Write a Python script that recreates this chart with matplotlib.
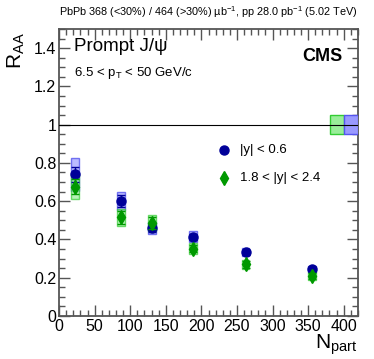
import matplotlib
matplotlib.use("Agg")
from matplotlib import pyplot as plt
from matplotlib.patches import Rectangle
from matplotlib.ticker import MultipleLocator
import numpy as np

plt.rcParams['font.family'] = ['Liberation Sans', 'DejaVu Sans']
plt.rcParams['mathtext.fontset'] = 'custom'
plt.rcParams['mathtext.rm'] = 'Liberation Sans'
plt.rcParams['mathtext.it'] = 'Liberation Sans:italic'

# data
npart = [22, 87, 131, 188, 262, 356]
raa_mid = [0.74, 0.60, 0.46, 0.414, 0.333, 0.245]
stat_mid = [0.04, 0.03, 0.02, 0.015, 0.012, 0.01]
syst_mid = [0.085, 0.047, 0.03, 0.03, 0.02, 0.015]
raa_fwd = [0.675, 0.515, 0.487, 0.352, 0.27, 0.21]
stat_fwd = [0.04, 0.035, 0.03, 0.02, 0.018, 0.016]
syst_fwd = [0.065, 0.045, 0.042, 0.028, 0.025, 0.02]
glob_mid = 0.05
glob_fwd = 0.05

blue = '#000099'
green = '#009900'

fig = plt.figure(figsize=(3.74, 3.59), dpi=100)
ax = fig.add_axes([0.158, 0.12, 0.799, 0.799])

hw = 5.5
for x, y, s in zip(npart, raa_mid, syst_mid):
    ax.add_patch(Rectangle((x - hw, y - s), 2 * hw, 2 * s, facecolor='#aaaaff',
                           edgecolor='#5555ee', alpha=0.8, lw=1, zorder=2))
for x, y, s in zip(npart, raa_fwd, syst_fwd):
    ax.add_patch(Rectangle((x - hw, y - s), 2 * hw, 2 * s, facecolor='#99ee99',
                           edgecolor='#33cc33', alpha=0.7, lw=1, zorder=3))

ax.errorbar(npart, raa_mid, yerr=stat_mid, fmt='o', color=blue, ms=6.5,
            capsize=3, lw=1, zorder=4)
ax.errorbar(npart, raa_fwd, yerr=stat_fwd, fmt='d', color=green, ms=7.5,
            capsize=3, lw=1, zorder=5)

# global uncertainty boxes
ax.add_patch(Rectangle((381, 1 - glob_fwd), 20, 2 * glob_fwd, facecolor='#99ee99',
                       edgecolor='#33cc33', lw=1, zorder=3))
ax.add_patch(Rectangle((401, 1 - glob_mid), 19, 2 * glob_mid, facecolor='#9999ff',
                       edgecolor='#5555ee', lw=1, zorder=3))
ax.axhline(1, color='black', lw=0.8, zorder=4)

ax.set_xlim(0, 420)
ax.set_ylim(0, 1.5)
ax.xaxis.set_major_locator(MultipleLocator(50))
ax.xaxis.set_minor_locator(MultipleLocator(10))
ax.yaxis.set_major_locator(MultipleLocator(0.2))
ax.yaxis.set_minor_locator(MultipleLocator(0.05))
ax.set_yticks([0, 0.2, 0.4, 0.6, 0.8, 1.0, 1.2, 1.4])
ax.set_yticklabels(['0', '0.2', '0.4', '0.6', '0.8', '1', '1.2', '1.4'])
ax.tick_params(which='both', direction='in', top=True, right=True,
               labelsize=11.5, color='#555555', pad=2)
ax.tick_params(which='major', length=8, width=1)
ax.tick_params(which='minor', length=4, width=1)
for sp in ax.spines.values():
    sp.set_color('#555555')
    sp.set_linewidth(1.3)

fig.text(0.015, 0.91, r'R$_{\mathrm{AA}}$', rotation=90, fontsize=15, ha='left', va='top')
fig.text(0.957, 0.005, r'N$_{\mathrm{part}}$', fontsize=15, ha='right', va='bottom')
fig.text(0.957, 0.945, 'PbPb 368 (<30%) / 464 (>30%) µb$^{-1}$, pp 28.0 pb$^{-1}$ (5.02 TeV)',
         fontsize=7.8, ha='right', va='bottom')

ax.text(0.05, 0.97, 'Prompt J/ψ', transform=ax.transAxes, fontsize=13.5,
        ha='left', va='top')
ax.text(0.05, 0.875, r'6.5 < p$_{\mathrm{T}}$ < 50 GeV/c', transform=ax.transAxes,
        fontsize=9.5, ha='left', va='top')
ax.text(0.95, 0.935, 'CMS', transform=ax.transAxes, fontsize=13, fontweight='bold',
        ha='right', va='top')

ax.plot([232], [0.867], 'o', color=blue, ms=6.5)
ax.text(254, 0.867, '|y| < 0.6', fontsize=9.5, va='center')
ax.plot([232], [0.72], 'd', color=green, ms=7.5)
ax.text(254, 0.72, '1.8 < |y| < 2.4', fontsize=9.5, va='center')

fig.savefig('out.png', dpi=100)
